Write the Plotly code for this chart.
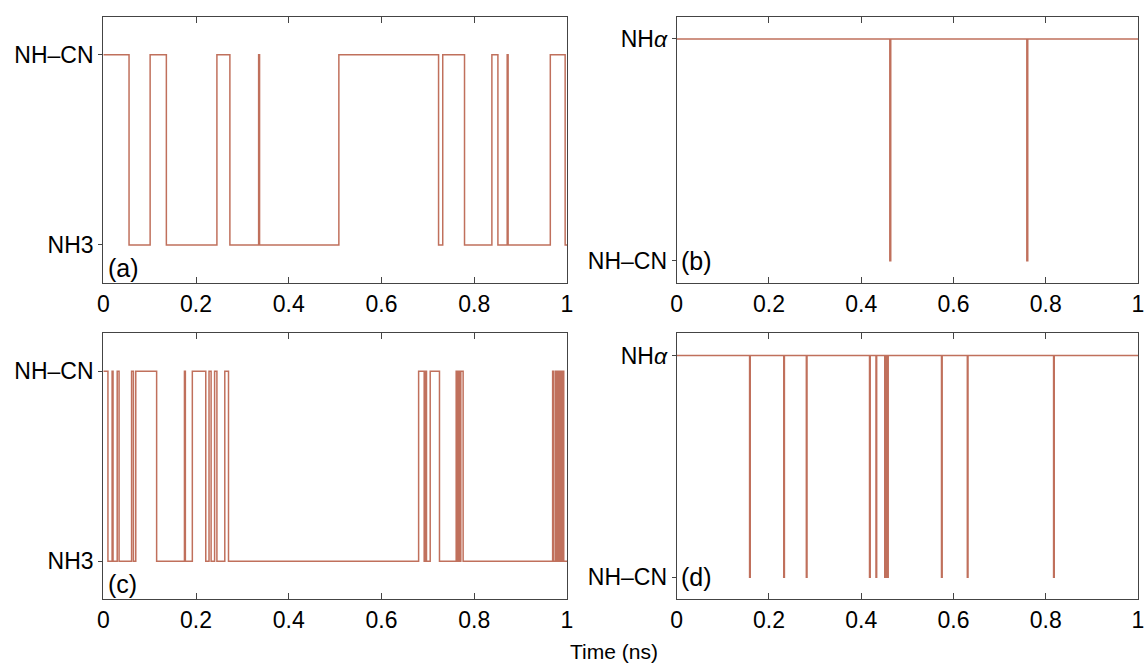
import plotly.graph_objects as go

# ---------------- data ----------------
# state 1 = upper level, 0 = lower level; step changes at the given times (ns)
a_times = [0.0, 0.0555, 0.101, 0.136, 0.245, 0.273, 0.335, 0.337, 0.508, 0.723,
           0.732, 0.779, 0.838, 0.851, 0.871, 0.873, 0.964, 0.996, 1.0]
a_states = [1, 0, 1, 0, 1, 0, 1, 0, 1, 0,
            1, 0, 1, 0, 1, 0, 1, 0, 0]

b_times = [0.0, 0.462, 0.464, 0.759, 0.761, 1.0]
b_states = [1, 0, 1, 0, 1, 1]

c_times = [0.0, 0.010, 0.019, 0.021, 0.030, 0.034, 0.061, 0.065, 0.070, 0.115,
           0.175, 0.177, 0.192, 0.221, 0.228, 0.2325, 0.240, 0.245, 0.262, 0.270,
           0.680, 0.692, 0.695, 0.697, 0.705, 0.725, 0.761, 0.764, 0.766, 0.769,
           0.771, 0.776, 0.969, 0.971, 0.975, 0.977, 0.979, 0.981, 0.982, 0.984,
           0.985, 0.987, 0.988, 0.990, 0.991, 0.993, 1.0]
c_states = [1, 0, 1, 0, 1, 0, 1, 0, 1, 0,
            1, 0, 1, 0, 1, 0, 1, 0, 1, 0,
            1, 0, 1, 0, 1, 0, 1, 0, 1, 0,
            1, 0, 1, 0, 1, 0, 1, 0, 1, 0,
            1, 0, 1, 0, 1, 0, 0]

d_times = [0.0, 0.158, 0.1595, 0.232, 0.2335, 0.281, 0.2825, 0.418, 0.4195,
           0.432, 0.4335, 0.451, 0.452, 0.454, 0.455, 0.457, 0.4585, 0.574, 0.5755,
           0.630, 0.6315, 0.817, 0.8185, 1.0]
d_states = [1, 0, 1, 0, 1, 0, 1, 0, 1,
            0, 1, 0, 1, 0, 1, 0, 1, 0, 1,
            0, 1, 0, 1, 1]

x_tickvals = [0, 0.2, 0.4, 0.6, 0.8, 1.0]
x_ticktext = ["0", "0.2", "0.4", "0.6", "0.8", "1"]
left_levels = ["NH3", "NH–CN"]
right_levels = ["NH–CN", "NH<i>α</i>"]
panel_names = ["(a)", "(b)", "(c)", "(d)"]
x_title = "Time (ns)"

# ---------------- styling ----------------
LINE = "#c0705c"
FRAME = "#444444"
FONT = "Liberation Sans, Arial, sans-serif"
W, H = 1145, 667

fig = go.Figure()
series = [(a_times, a_states), (b_times, b_states), (c_times, c_states), (d_times, d_states)]
for i, (t, s) in enumerate(series):
    suf = "" if i == 0 else str(i + 1)
    fig.add_trace(go.Scatter(
        x=t, y=s, mode="lines",
        line=dict(shape="hv", color=LINE, width=1.5),
        xaxis="x" + suf, yaxis="y" + suf,
        showlegend=False, hoverinfo="skip"))

# pixel frames of the panels
left_px = (103.3, 567.0)
right_px = (676.7, 1138.0)
top_px = (16.7, 283.0)
bot_px = (333.3, 599.3)


def xd(px):
    return [px[0] / W, px[1] / W]


def yd(py):
    return [1 - py[1] / H, 1 - py[0] / H]


frames = [(left_px, top_px, [-0.2, 1.2], left_levels),
          (right_px, top_px, [-0.1, 1.1], right_levels),
          (left_px, bot_px, [-0.2, 1.2], left_levels),
          (right_px, bot_px, [-0.1, 1.1], right_levels)]

layout = dict(
    width=W, height=H,
    margin=dict(l=0, r=0, t=0, b=0, autoexpand=False),
    paper_bgcolor="white", plot_bgcolor="white",
    font=dict(family=FONT, color="black"),
    annotations=[],
)

for i, (xp, yp, yr, levels) in enumerate(frames):
    suf = "" if i == 0 else str(i + 1)
    layout["xaxis" + suf] = dict(
        domain=xd(xp), anchor="y" + suf, range=[0, 1],
        tickvals=x_tickvals, ticktext=x_ticktext,
        ticks="inside", ticklen=6, tickwidth=1, tickcolor=FRAME,
        showline=True, linecolor=FRAME, linewidth=1.2, mirror="ticks",
        showgrid=False, zeroline=False, automargin=False,
        ticklabeloverflow="allow",
        tickfont=dict(size=23, family=FONT, color="black"),
    )
    layout["yaxis" + suf] = dict(
        domain=yd(yp), anchor="x" + suf, range=yr,
        tickvals=[0, 1], ticktext=levels,
        ticks="outside", ticklen=4, tickwidth=1, tickcolor=FRAME,
        showline=True, linecolor=FRAME, linewidth=1.2, mirror=True,
        showgrid=False, zeroline=False, automargin=False,
        ticklabeloverflow="allow",
        tickfont=dict(size=23, family=FONT, color="black"),
    )
    label_y = -0.12 if yr[0] < -0.15 else 0.0
    layout["annotations"].append(dict(
        x=0.005, y=label_y, xref="x" + suf, yref="y" + suf,
        text=panel_names[i], showarrow=False,
        xanchor="left", yanchor="middle",
        font=dict(size=25, family=FONT, color="black")))

layout["annotations"].append(dict(
    x=614 / W, y=1 - 651 / H, xref="paper", yref="paper",
    text=x_title, showarrow=False, xanchor="center", yanchor="middle",
    font=dict(size=21, family=FONT, color="black")))

fig.update_layout(**layout)
fig.write_html("out.html", config={"displayModeBar": False})

# remove the browser's default page margin so the figure sits at the window origin
with open("out.html", "r", encoding="utf-8") as f:
    html = f.read()
html = html.replace("<head>", "<head><style>html,body{margin:0;padding:0;overflow:hidden;}</style>", 1)
with open("out.html", "w", encoding="utf-8") as f:
    f.write(html)
